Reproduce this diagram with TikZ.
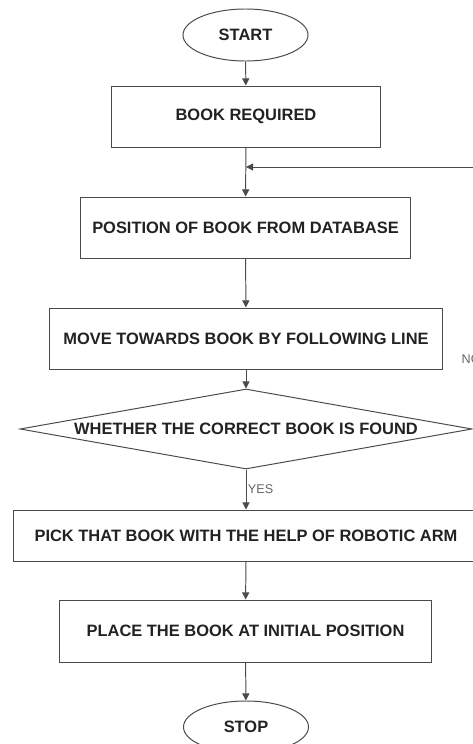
\documentclass[tikz,border=0pt]{standalone}
\usepackage{fontspec}
\setmainfont{Liberation Sans}
\usetikzlibrary{shapes.geometric,arrows.meta}
\definecolor{edgegray}{HTML}{4A4A4A}
\definecolor{textgray}{HTML}{222222}
\definecolor{labelgray}{HTML}{666666}
\begin{document}
\begin{tikzpicture}[x=0.025cm, y=-0.025cm,
    terminal/.style ={ellipse, draw=edgegray, line width=0.7pt, inner sep=0pt, minimum width=3.125cm, minimum height=1.3cm, text=textgray, font=\bfseries\fontsize{11.7}{13}\selectfont},
    process/.style ={rectangle, draw=edgegray, line width=0.7pt, inner sep=0pt, minimum height=1.525cm, text=textgray, font=\bfseries\fontsize{11.7}{13}\selectfont},
    decision/.style ={diamond, aspect=5.65, draw=edgegray, line width=0.7pt, inner sep=0pt, minimum width=11.3cm, minimum height=2cm, text=textgray, font=\bfseries\fontsize{11.7}{13}\selectfont},
    answer/.style ={inner sep=1pt, text=labelgray, font=\fontsize{9}{10}\selectfont},
    flow/.style ={draw=edgegray, line width=0.7pt, -{Triangle[length=1.8mm,width=1.8mm]}}]
   \useasboundingbox (0,0) rectangle (473,744);
   \node[terminal] (start)  at (245.5,35)  {START};
   \node[process, minimum width=6.7cm] (req)  at (246,116.5)  {BOOK REQUIRED};
   \node[process, minimum width=8.225cm] (pos)  at (245.5,227.5)  {POSITION OF BOOK FROM DATABASE};
   \node[process, minimum width=9.8cm] (move)  at (246,338.5)  {MOVE TOWARDS BOOK BY FOLLOWING LINE};
   \node[decision] (found)  at (246,429)  {WHETHER THE CORRECT BOOK IS FOUND};
   \node[process, minimum width=11.6cm, minimum height=1.275cm] (pick)  at (246,535.5)  {PICK THAT BOOK WITH THE HELP OF ROBOTIC ARM};
   \node[process, minimum width=9.275cm, minimum height=1.55cm] (place)  at (245.5,631)  {PLACE THE BOOK AT INITIAL POSITION};
   \node[terminal] (stop)  at (246,727)  {STOP};
   \coordinate (back) at (246,167);
   \draw[flow] (start) to  (req);
   \draw[flow] (req) to  (pos);
   \draw[flow] (pos) to  (move);
   \draw[flow] (move) to  (found);
   \draw[flow] (found) to  node[answer, right] {YES} (pick);
   \draw[flow] (found.east) -- ++(10,0) |- node[answer, left, pos=0.134] {NO} (back);
   \draw[flow] (pick) to  (place);
   \draw[flow] (place) to  (stop);
 \end{tikzpicture}
\end{document}
